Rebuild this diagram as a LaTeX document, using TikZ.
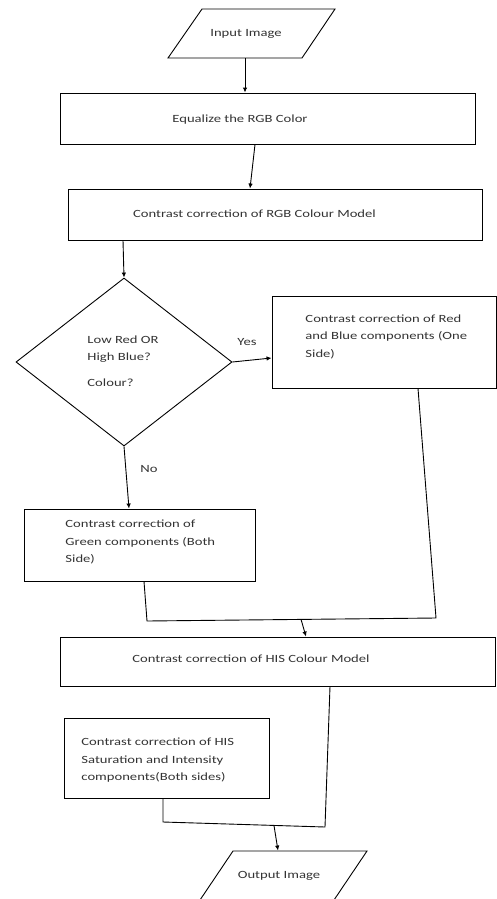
\documentclass[tikz,border=0pt]{standalone}
\usepackage{fontspec}
\setmainfont{Carlito}[FakeStretch=1.33]
\usetikzlibrary{arrows.meta,shapes.geometric}
\begin{document}
\begin{tikzpicture}[x=1pt,y=-1pt,
  line width=0.9pt,
  box/.style={draw, rectangle, inner sep=0pt},
  iobox/.style={rectangle, inner sep=0pt, minimum height=49pt, font=\fontsize{11}{17.5}\selectfont, text=black!80},
  dec/.style={draw, diamond, inner sep=0pt},
  txt/.style={inner sep=0pt, font=\fontsize{11}{17.5}\selectfont, text=black!80},
  ltxt/.style={txt, align=left, anchor=west},
  arr/.style={-{Latex[length=5pt,width=4.5pt]}},
  ln/.style={-}]
\useasboundingbox (0,0) rectangle (497,899);
\clip (0,0) rectangle (497,899);
% shapes
\draw (202,9) -- (335,9) -- (302,58) -- (168,58) -- cycle;
\node[iobox] (in) at (246,33.5) {Input Image};
\node[box, minimum width=415, minimum height=51] (eq) at (267.5,118.5) {};
\node[box, minimum width=414, minimum height=51] (rgb) at (275,214.5) {};
\node[dec, minimum width=216, minimum height=168] (dc) at (124,362) {};
\node[box, minimum width=224, minimum height=92] (rb) at (384,342) {};
\node[box, minimum width=231, minimum height=72] (gr) at (139.5,545) {};
\node[box, minimum width=435, minimum height=49] (his) at (278,661.5) {};
\node[box, minimum width=205, minimum height=80] (si) at (166.5,758) {};
\draw (233,851) -- (367,851) -- (334,900) -- (200,900) -- cycle;
\node[iobox] (out) at (279,875.5) {Output Image};
% texts
\node[txt] (teq) at (240,120) {Equalize the RGB Color};
\node[txt] (trgb) at (254.5,214) {Contrast correction of RGB Colour Model};
\node[ltxt] (tdc) at (87,349) {Low Red OR\\High Blue?};
\node[ltxt] (tdc2) at (87,383) {Colour?};
\node[txt] (tyes) at (247,342) {Yes};
\node[ltxt] (trb) at (305,336.5) {Contrast correction of Red\\and Blue components (One\\Side)};
\node[txt] (tno) at (149,469) {No};
\node[ltxt] (tgr) at (65,542) {Contrast correction of\\Green components (Both\\Side)};
\node[txt] (this) at (251,659) {Contrast correction of HIS Colour Model};
\node[ltxt] (tsi) at (81,760.5) {Contrast correction of HIS\\Saturation and Intensity\\components(Both sides)};
% connectors
\draw[arr] ([xshift=-1pt]in.south) -- ([xshift=-1pt]in.south |- eq.north);
\draw[arr] ([xshift=-12.5pt]eq.south) -- ([xshift=-25pt]rgb.north);
\draw[arr] ([xshift=-152pt]rgb.south) -- (dc.north);
\draw[arr] (dc.east) -- ([yshift=-16pt]rb.west);
\draw[arr] (dc.south) -- ([xshift=-10.5pt]gr.north);
\coordinate (c1) at (436,618);
\coordinate (c2) at (147,621);
\coordinate (m1) at (301,619.3);
\draw[ln] ([xshift=34pt]rb.south) -- (c1) -- (c2) -- ([xshift=4.5pt]gr.south);
\draw[arr] (m1) -- ([xshift=28pt]his.north);
\coordinate (d1) at (325,827);
\coordinate (d2) at (163,822);
\coordinate (m2) at (274,825.6);
\draw[ln] ([xshift=52pt]his.south) -- (d1) -- (d2) -- ([xshift=-3.5pt]si.south);
\draw[arr] (m2) -- ([xshift=-1pt]out.north);
\end{tikzpicture}
\end{document}
